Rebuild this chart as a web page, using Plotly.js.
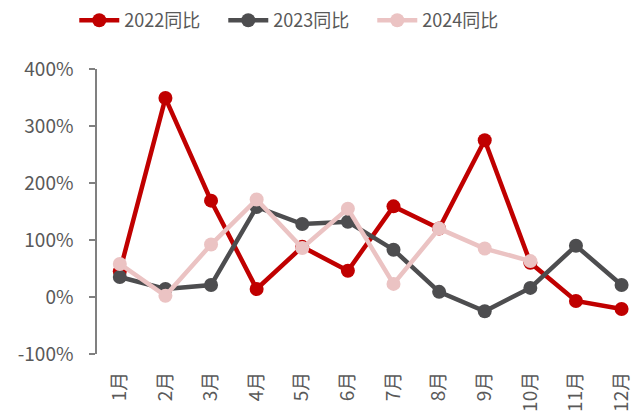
<!DOCTYPE html>
<html>
<head>
<meta charset="utf-8">
<script src="https://cdn.plot.ly/plotly-3.0.1.min.js"></script>
<style>
  html, body { margin: 0; padding: 0; background: #fff; }
  #chart { width: 638px; height: 411px; }
</style>
</head>
<body>
<div id="chart"></div>
<script>
// 月份
const months = ['1月', '2月', '3月', '4月', '5月', '6月', '7月', '8月', '9月', '10月', '11月', '12月'];
// 同比（%）
const yoy2022 = [45, 349, 169, 14, 88, 46, 159, 120, 275, 60, -7, -21];
const yoy2023 = [35, 14, 21, 158, 128, 132, 83, 9, -25, 16, 90, 21];
const yoy2024 = [58, 2, 92, 171, 86, 155, 23, 120, 85, 63];
const yTicks = [-100, 0, 100, 200, 300, 400];

const fontFamily = '"Noto Sans CJK SC", "Noto Sans", sans-serif';
const textColor = '#595959';
const axisColor = '#808080';

function makeTrace(name, values, color) {
    return {
        x: months.slice(0, values.length),
        y: values,
        name: name,
        type: 'scatter',
        mode: 'lines+markers',
        line: { color: color, width: 4.5 },
        marker: { color: color, size: 14 },
        hoverinfo: 'x+y+name'
    };
}

const traces = [
    makeTrace('2022同比', yoy2022, '#C00000'),
    makeTrace('2023同比', yoy2023, '#4D4D4F'),
    makeTrace('2024同比', yoy2024, '#EBC3C3')
];

// 零轴上的刻度线（类别边界）
const boundaries = months.map((m, i) => i - 0.5).concat([months.length - 0.5]);
const xRange = [-0.5, 11.36];

const layout = {
    width: 638,
    height: 411,
    margin: { l: 97, r: 0, t: 69, b: 57 },
    paper_bgcolor: '#fff',
    plot_bgcolor: '#fff',
    font: { family: fontFamily, color: textColor, size: 18 },
    showlegend: true,
    legend: {
        orientation: 'h',
        x: -0.042, y: 1.17,
        xanchor: 'left', yanchor: 'middle',
        entrywidth: 94,
        font: { size: 18, color: textColor },
        itemwidth: 40,
        tracegroupgap: 0
    },
    xaxis: {
        type: 'category',
        categoryarray: months,
        range: xRange,
        showline: false,
        showgrid: false,
        zeroline: false,
        ticks: '',
        tickangle: -90,
        ticklabelstandoff: 13,
        tickfont: { size: 19, color: textColor }
    },
    xaxis2: {
        overlaying: 'x',
        anchor: 'free',
        position: 0.2,
        range: xRange,
        showline: true,
        linecolor: axisColor,
        linewidth: 1.5,
        ticks: 'outside',
        ticklen: 6,
        tickwidth: 1.5,
        tickcolor: axisColor,
        tickvals: boundaries,
        showticklabels: false,
        showgrid: false,
        zeroline: false
    },
    yaxis: {
        range: [-100, 400],
        tickvals: yTicks,
        ticktext: yTicks.map(v => v + '%'),
        showline: true,
        linecolor: axisColor,
        linewidth: 1.5,
        ticks: 'outside',
        ticklen: 6,
        tickwidth: 1.5,
        tickcolor: axisColor,
        showgrid: false,
        zeroline: false,
        ticklabelstandoff: 12,
        tickfont: { size: 19, color: textColor }
    }
};

Plotly.newPlot('chart', traces, layout, { displayModeBar: false });
</script>
</body>
</html>
